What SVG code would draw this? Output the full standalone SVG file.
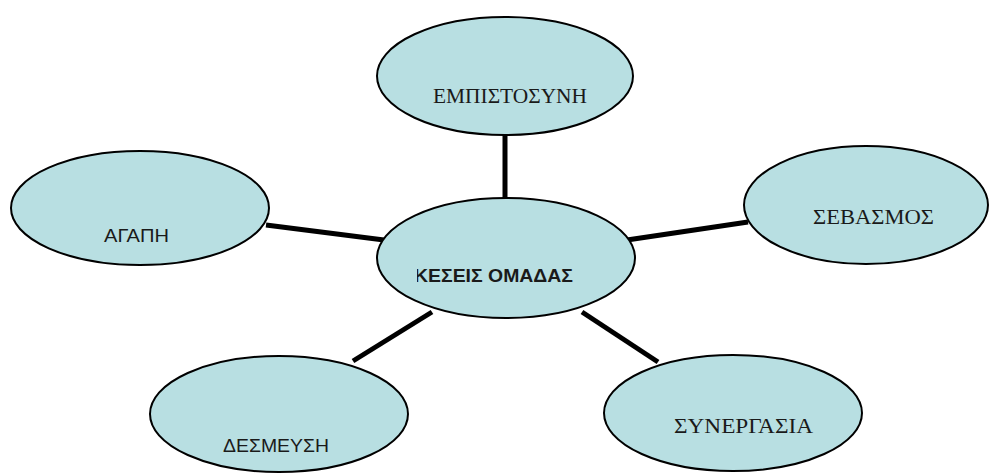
<svg xmlns="http://www.w3.org/2000/svg" width="990" height="473" viewBox="0 0 990 473">
<defs>
<style>
.node{fill:#b8dfe2;stroke:#000;stroke-width:2}
.edge{stroke:#000;stroke-width:5;fill:none}
.serif{font-family:"Liberation Serif","Times New Roman",serif;font-size:20px;fill:#1a1a1a}
.sans{font-family:"Liberation Sans",Arial,sans-serif;font-size:19px;fill:#1a1a1a}
.bold{font-family:"Liberation Sans",Arial,sans-serif;font-size:18px;font-weight:bold;fill:#1a1a1a}
</style>
<clipPath id="clipc"><rect x="417" y="190" width="300" height="130"/></clipPath>
</defs>
<rect width="990" height="473" fill="#fff"/>
<g id="connectors">
<line class="edge" x1="505" y1="134" x2="505" y2="199"/>
<line class="edge" x1="266" y1="225" x2="384" y2="240"/>
<line class="edge" x1="627" y1="240" x2="748" y2="222"/>
<line class="edge" x1="432" y1="312" x2="353" y2="361"/>
<line class="edge" x1="582" y1="312" x2="658" y2="362"/>
</g>
<g id="n-top">
<ellipse class="node" cx="505" cy="76" rx="128" ry="59"/>
<text class="serif" x="433" y="103" textLength="154" lengthAdjust="spacingAndGlyphs">ΕΜΠΙΣΤΟΣΥΝΗ</text>
</g>
<g id="n-left">
<ellipse class="node" cx="140" cy="208" rx="129" ry="57"/>
<text class="sans" x="104" y="242" textLength="65" lengthAdjust="spacingAndGlyphs">ΑΓΑΠΗ</text>
</g>
<g id="n-right">
<ellipse class="node" cx="866" cy="205" rx="122" ry="59"/>
<text class="serif" x="813" y="224" textLength="121" lengthAdjust="spacingAndGlyphs">ΣΕΒΑΣΜΟΣ</text>
</g>
<g id="n-center">
<ellipse class="node" cx="506" cy="258" rx="129" ry="60"/>
<text class="bold" x="414" y="282" textLength="159" lengthAdjust="spacingAndGlyphs" clip-path="url(#clipc)">ΚΕΣΕΙΣ ΟΜΑΔΑΣ</text>
</g>
<g id="n-bl">
<ellipse class="node" cx="279" cy="414" rx="129" ry="58"/>
<text class="sans" x="223" y="452" textLength="106" lengthAdjust="spacingAndGlyphs">ΔΕΣΜΕΥΣΗ</text>
</g>
<g id="n-br">
<ellipse class="node" cx="733" cy="413" rx="129" ry="58"/>
<text class="serif" x="674" y="433" textLength="139" lengthAdjust="spacingAndGlyphs">ΣΥΝΕΡΓΑΣΙΑ</text>
</g>
</svg>
